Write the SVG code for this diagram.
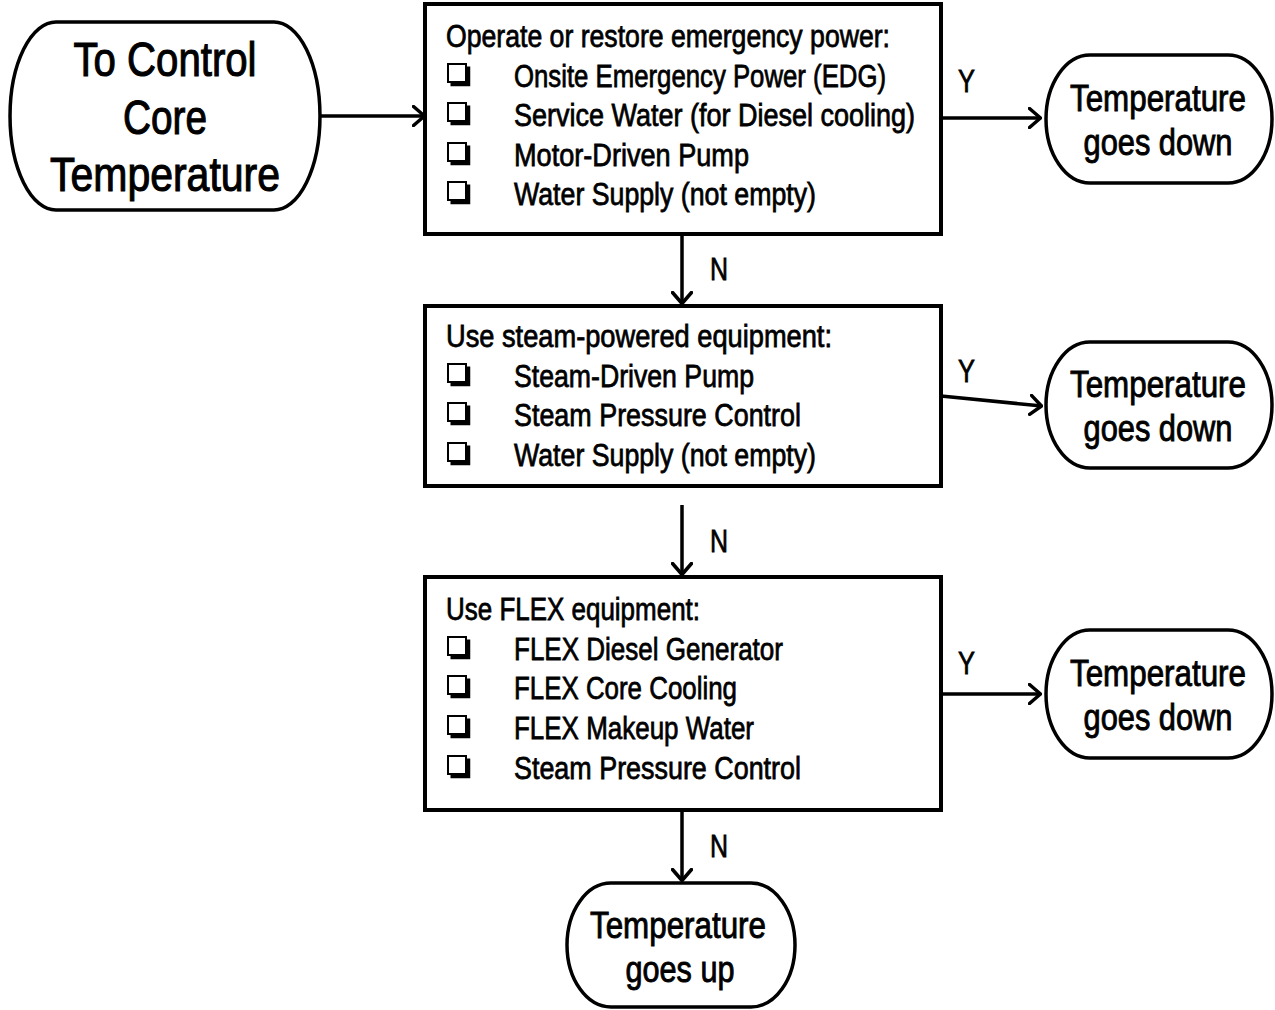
<svg xmlns="http://www.w3.org/2000/svg" width="1275" height="1010" viewBox="0 0 1275 1010">
<style>
.bx{fill:#fff;stroke:#000;stroke-width:4}
.tm{fill:#fff;stroke:#000;stroke-width:3.5}
.cn{fill:none;stroke:#000;stroke-width:3.5;marker-end:url(#ah)}
text{font-family:"Liberation Sans",Arial,sans-serif;fill:#000;stroke:#000}
.it{font-size:31px;stroke-width:0.75}
.big{font-size:48px;text-anchor:middle;stroke-width:1.1}
.end{font-size:37px;text-anchor:middle;stroke-width:0.9}
.lb{font-size:31px;stroke-width:0.75}
</style>
<defs>
<marker id="ah" viewBox="0 0 14 22" refX="13" refY="11" markerWidth="14" markerHeight="22" markerUnits="userSpaceOnUse" orient="auto">
<path d="M1.5,1.5 L12.5,11 L1.5,20.5" fill="none" stroke="#000" stroke-width="3.5" stroke-linecap="round" stroke-linejoin="round"/>
</marker>
<g id="cb">
<path d="M3.5,19.5 H21.5 V1.5" fill="none" stroke="#000" stroke-width="3.5"/>
<rect x="1" y="-1" width="18" height="18" fill="#fff" stroke="#000" stroke-width="2"/>
</g>
</defs>

<g id="connectors">
<line class="cn" x1="320" y1="116" x2="425" y2="116"/>
<line class="cn" x1="941" y1="118" x2="1041" y2="118"/>
<line class="cn" x1="682" y1="234" x2="682" y2="304"/>
<line class="cn" x1="941" y1="396" x2="1042" y2="406"/>
<line class="cn" x1="682" y1="505" x2="682" y2="575"/>
<line class="cn" x1="941" y1="694" x2="1041" y2="694"/>
<line class="cn" x1="682" y1="810" x2="682" y2="881"/>
<text class="lb" transform="translate(958,92) scale(0.82,1)" textLength="20.7" lengthAdjust="spacingAndGlyphs">Y</text>
<text class="lb" transform="translate(958,382) scale(0.82,1)" textLength="20.7" lengthAdjust="spacingAndGlyphs">Y</text>
<text class="lb" transform="translate(958,674) scale(0.82,1)" textLength="20.7" lengthAdjust="spacingAndGlyphs">Y</text>
<text class="lb" transform="translate(710,280) scale(0.82,1)" textLength="22" lengthAdjust="spacingAndGlyphs">N</text>
<text class="lb" transform="translate(710,552) scale(0.82,1)" textLength="22" lengthAdjust="spacingAndGlyphs">N</text>
<text class="lb" transform="translate(710,857) scale(0.82,1)" textLength="22" lengthAdjust="spacingAndGlyphs">N</text>
</g>

<g id="start">
<path class="tm" d="M56,22 H274 A46,94 0 0 1 274,210 H56 A46,94 0 0 1 56,22 Z"/>
<text class="big" transform="translate(165,76) scale(0.84,1)" textLength="217.9" lengthAdjust="spacingAndGlyphs">To Control</text>
<text class="big" transform="translate(165,134) scale(0.84,1)" textLength="100" lengthAdjust="spacingAndGlyphs">Core</text>
<text class="big" transform="translate(165,191) scale(0.84,1)" textLength="273.8" lengthAdjust="spacingAndGlyphs">Temperature</text>
</g>

<g id="box1">
<rect class="bx" x="425" y="4" width="516" height="230"/>
<text class="it" transform="translate(446,47) scale(0.8,1)" textLength="555" lengthAdjust="spacingAndGlyphs">Operate or restore emergency power:</text>
<use href="#cb" x="447" y="65"/>
<use href="#cb" x="447" y="104"/>
<use href="#cb" x="447" y="144"/>
<use href="#cb" x="447" y="183"/>
<text class="it" transform="translate(514,87) scale(0.8,1)" textLength="465" lengthAdjust="spacingAndGlyphs">Onsite Emergency Power (EDG)</text>
<text class="it" transform="translate(514,126) scale(0.8,1)" textLength="501.2" lengthAdjust="spacingAndGlyphs">Service Water (for Diesel cooling)</text>
<text class="it" transform="translate(514,166) scale(0.8,1)" textLength="293.7" lengthAdjust="spacingAndGlyphs">Motor-Driven Pump</text>
<text class="it" transform="translate(514,205) scale(0.8,1)" textLength="377.5" lengthAdjust="spacingAndGlyphs">Water Supply (not empty)</text>
</g>

<g id="box2">
<rect class="bx" x="425" y="306" width="516" height="180"/>
<text class="it" transform="translate(446,347) scale(0.8,1)" textLength="482.5" lengthAdjust="spacingAndGlyphs">Use steam-powered equipment:</text>
<use href="#cb" x="447" y="365"/>
<use href="#cb" x="447" y="404"/>
<use href="#cb" x="447" y="444"/>
<text class="it" transform="translate(514,387) scale(0.8,1)" textLength="300" lengthAdjust="spacingAndGlyphs">Steam-Driven Pump</text>
<text class="it" transform="translate(514,426) scale(0.8,1)" textLength="358.7" lengthAdjust="spacingAndGlyphs">Steam Pressure Control</text>
<text class="it" transform="translate(514,466) scale(0.8,1)" textLength="377.5" lengthAdjust="spacingAndGlyphs">Water Supply (not empty)</text>
</g>

<g id="box3">
<rect class="bx" x="425" y="577" width="516" height="233"/>
<text class="it" transform="translate(446,620) scale(0.8,1)" textLength="317.5" lengthAdjust="spacingAndGlyphs">Use FLEX equipment:</text>
<use href="#cb" x="447" y="638"/>
<use href="#cb" x="447" y="677"/>
<use href="#cb" x="447" y="717"/>
<use href="#cb" x="447" y="757"/>
<text class="it" transform="translate(514,660) scale(0.8,1)" textLength="336.2" lengthAdjust="spacingAndGlyphs">FLEX Diesel Generator</text>
<text class="it" transform="translate(514,699) scale(0.8,1)" textLength="278.7" lengthAdjust="spacingAndGlyphs">FLEX Core Cooling</text>
<text class="it" transform="translate(514,739) scale(0.8,1)" textLength="300" lengthAdjust="spacingAndGlyphs">FLEX Makeup Water</text>
<text class="it" transform="translate(514,779) scale(0.8,1)" textLength="358.7" lengthAdjust="spacingAndGlyphs">Steam Pressure Control</text>
</g>

<g id="end1">
<path class="tm" d="M1090,55 H1228 A44,64 0 0 1 1228,183 H1090 A44,64 0 0 1 1090,55 Z"/>
<text class="end" transform="translate(1158,111) scale(0.83,1)" textLength="212" lengthAdjust="spacingAndGlyphs">Temperature</text>
<text class="end" transform="translate(1158,155) scale(0.83,1)" textLength="179.5" lengthAdjust="spacingAndGlyphs">goes down</text>
</g>

<g id="end2">
<path class="tm" d="M1090,342 H1228 A44,63 0 0 1 1228,468 H1090 A44,63 0 0 1 1090,342 Z"/>
<text class="end" transform="translate(1158,397) scale(0.83,1)" textLength="212" lengthAdjust="spacingAndGlyphs">Temperature</text>
<text class="end" transform="translate(1158,441) scale(0.83,1)" textLength="179.5" lengthAdjust="spacingAndGlyphs">goes down</text>
</g>

<g id="end3">
<path class="tm" d="M1090,630 H1228 A44,64 0 0 1 1228,758 H1090 A44,64 0 0 1 1090,630 Z"/>
<text class="end" transform="translate(1158,686) scale(0.83,1)" textLength="212" lengthAdjust="spacingAndGlyphs">Temperature</text>
<text class="end" transform="translate(1158,730) scale(0.83,1)" textLength="179.5" lengthAdjust="spacingAndGlyphs">goes down</text>
</g>

<g id="end4">
<path class="tm" d="M611,883 H751 A44,62 0 0 1 751,1007 H611 A44,62 0 0 1 611,883 Z"/>
<text class="end" transform="translate(678,938) scale(0.83,1)" textLength="212" lengthAdjust="spacingAndGlyphs">Temperature</text>
<text class="end" transform="translate(680,982) scale(0.83,1)" textLength="131.3" lengthAdjust="spacingAndGlyphs">goes up</text>
</g>
</svg>
